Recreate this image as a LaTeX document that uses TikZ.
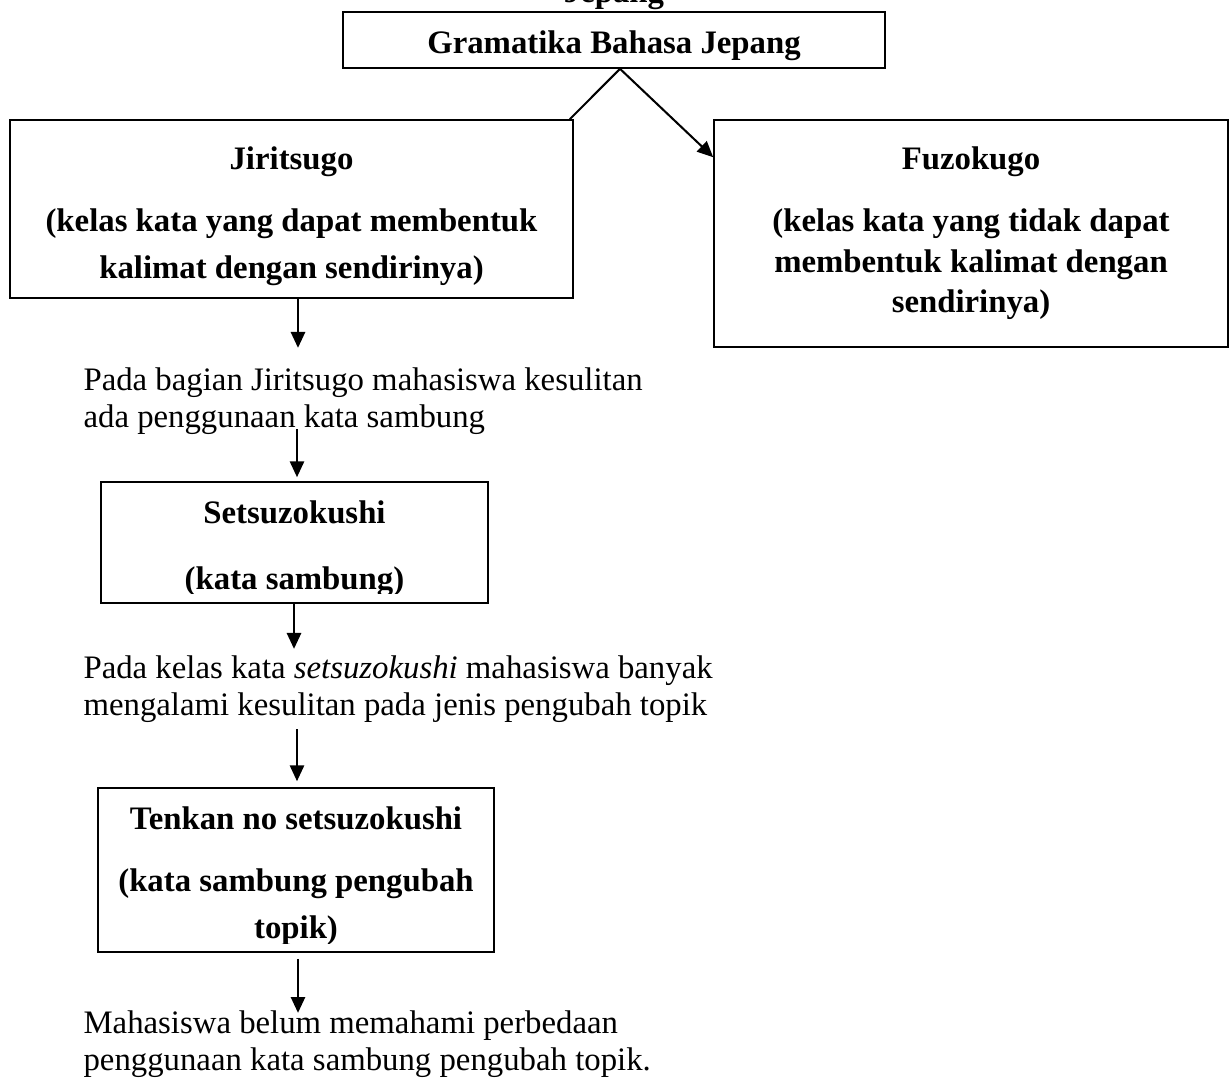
\documentclass[tikz,border=0pt]{standalone}
\usepackage{fontspec}
\setmainfont{Liberation Serif}
\usetikzlibrary{
  positioning,
  arrows.meta,
  calc,
  fit
}

\begin{document}
\begin{tikzpicture}[
  x=0.366pt, y=0.366pt,
  >={Triangle[length=5.8pt,width=5.2pt]},
  box/.style={draw, line width=0.6pt, inner sep=0pt},
  lbl/.style={font=\fontsize{12}{13.5}\selectfont\bfseries, anchor=base, inner sep=0pt},
  txt/.style={font=\fontsize{12}{13.5}\selectfont, anchor=base west, align=left, inner sep=0pt},
  arr/.style={->, line width=0.75pt},
  link/.style={line width=0.75pt}
]
\clip (0,0) rectangle (1230,-1077);

% judul
\node[lbl] (judul) at (614,-2) {Jepang};
\node[box, fit={(343,-12)(885,-68)}] (gram) {};
\node[lbl] (gramlbl) at ($(gram.north)+(0,-42)$) {Gramatika Bahasa Jepang};

% dua kelas kata
\node[box, fit={(10,-120)(573,-298)}] (jiri) {};
\node[lbl] (jirilbl) at ($(jiri.north)+(0,-50)$) {Jiritsugo};
\node[lbl] (jiria) at ($(jiri.north)+(0,-112)$) {(kelas kata yang dapat membentuk};
\node[lbl] (jirib) at ($(jiri.north)+(0,-159)$) {kalimat dengan sendirinya)};

\node[box, fit={(714,-120)(1228,-347)}] (fuzo) {};
\node[lbl] (fuzolbl) at ($(fuzo.north)+(0,-50)$) {Fuzokugo};
\node[lbl] (fuzoa) at ($(fuzo.north)+(0,-112)$) {(kelas kata yang tidak dapat};
\node[lbl] (fuzob) at ($(fuzo.north)+(0,-153)$) {membentuk kalimat dengan};
\node[lbl] (fuzoc) at ($(fuzo.north)+(0,-193)$) {sendirinya)};

\draw[link] ($(gram.south)+(6,0)$) -- ($(jiri.north east)+(-4,0)$);
\draw[arr] ($(gram.south)+(6,0)$) -- ($(fuzo.north west)+(0,-38)$);

% alur jiritsugo
\node[txt] (pesan1) at (83,-427)
  {Pada bagian Jiritsugo mahasiswa kesulitan\\ada penggunaan kata sambung};
\draw[arr] ($(jiri.south)+(6.5,0)$) -- ++(0,-49);

\node[box, fit={(101,-482)(488,-603)}] (setsu) {};
\node[lbl] (setsulbl) at ($(setsu.north)+(0,-42)$) {Setsuzokushi};
\begin{scope}
  \clip (101,-482) rectangle (488,-593);
  \node[lbl] (setsuket) at ($(setsu.north)+(0,-108)$) {(kata sambung)};
\end{scope}
\draw[arr] ($(setsu.north)+(2.5,52)$) -- ($(setsu.north)+(2.5,4)$);
\draw[arr] ($(setsu.south)+(-0.5,0)$) -- ++(0,-45);

\node[txt] (pesan2) at (83,-715)
  {Pada kelas kata \textit{setsuzokushi} mahasiswa banyak\\mengalami kesulitan pada jenis pengubah topik};

\node[box, fit={(98,-788)(494,-952)}] (tenkan) {};
\node[lbl] (tenkanlbl) at ($(tenkan.north)+(0,-42)$) {Tenkan no setsuzokushi};
\node[lbl] (tenkana) at ($(tenkan.north)+(0,-104)$) {(kata sambung pengubah};
\begin{scope}
  \clip (98,-788) rectangle (494,-943);
  \node[lbl] (tenkanb) at ($(tenkan.north)+(0,-151)$) {topik)};
\end{scope}
\draw[arr] ($(tenkan.north)+(1,58)$) -- ($(tenkan.north)+(1,6)$);
\draw[arr] ($(tenkan.south)+(2,-6)$) -- ++(0,-54);

\node[txt] (pesan3) at (83,-1070)
  {Mahasiswa belum memahami perbedaan\\penggunaan kata sambung pengubah topik.};

\end{tikzpicture}
\end{document}
